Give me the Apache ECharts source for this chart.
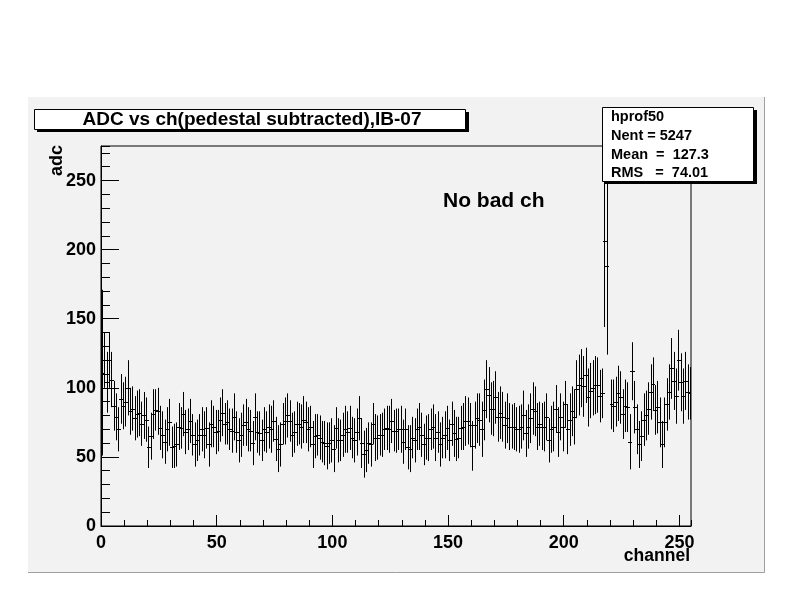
<!DOCTYPE html>
<html><head><meta charset="utf-8">
<script src="https://cdn.jsdelivr.net/npm/echarts@6/dist/echarts.min.js"></script>
<style>html,body{margin:0;padding:0;background:#fff}#c{width:792px;height:612px}</style>
</head><body><div id="c"></div>
<script>
// profile means per channel (ch 0..254); ch 219 empty
const means = [
 111,120,104,120,106,87,79,70,92,87,
 90,100,83,85,78,81,82,74,80,77,
 57,65,81,84,83,71,66,61,70,75,
 57,58,59,72,71,81,68,70,76,66,
 59,62,66,70,66,71,59,74,72,68,
 69,77,82,74,75,70,69,79,68,62,
 66,73,75,70,69,60,79,68,67,62,
 70,68,72,70,76,63,56,59,74,76,
 80,76,66,68,74,74,72,77,75,70,
 72,59,65,66,64,61,60,58,60,62,
 56,71,62,62,66,70,68,71,64,62,
 68,78,60,52,55,60,59,74,64,64,
 66,66,70,71,70,76,69,69,70,70,
 61,70,57,56,64,62,70,72,66,59,
 64,64,70,72,64,68,59,64,66,71,
 62,74,67,63,64,71,72,76,76,73,
 58,73,78,77,70,84,99,95,85,85,
 93,79,82,79,73,78,72,72,72,70,
 70,72,80,67,72,78,85,83,72,74,
 72,72,79,62,70,72,85,68,79,72,
 88,70,77,83,79,99,102,107,101,109,
 93,98,100,102,102,94,96,206,188,null,
 88,87,90,96,93,81,87,86,61,112,
 86,70,59,65,77,80,85,97,103,84,
 86,75,59,75,88,97,114,105,94,120,
 104,94,105,97,96
];
// error on the mean per channel
const errors = [
 60,20,22,20,20,18,17,16,18,17,
 18,20,17,16,16,17,17,16,17,16,
 15,17,18,15,17,16,17,16,16,17,
 15,16,16,17,15,16,16,15,16,15,
 16,15,15,16,17,15,16,17,15,16,
 15,16,17,15,16,15,16,17,15,16,
 16,15,17,16,15,16,17,15,16,15,
 16,15,16,17,15,16,17,16,15,17,
 16,15,16,15,16,15,16,17,15,16,
 15,17,16,15,16,15,16,17,15,16,
 17,15,16,15,16,17,15,16,15,16,
 17,16,18,17,16,15,16,15,17,16,
 15,16,15,16,17,16,15,16,15,17,
 16,15,16,17,15,16,15,17,16,15,
 16,17,15,16,17,15,16,15,17,16,
 15,16,17,16,15,16,17,18,17,16,
 18,17,18,19,20,22,21,20,19,20,
 19,18,19,18,17,18,17,16,17,16,
 17,16,18,17,16,18,19,18,17,16,
 17,18,17,16,17,18,17,18,17,18,
 17,18,19,18,20,21,22,21,22,20,
 21,20,20,21,20,19,18,62,64,null,
 18,19,18,20,19,18,19,18,20,21,
 19,18,17,18,19,18,19,20,19,18,
 19,18,17,18,19,20,22,21,20,22,
 21,20,21,20,19
];
const channels = means.map((_, i) => i);
const xRange = [0, 255];
const yRange = [0, 275];
const titleText = 'ADC vs ch(pedestal subtracted),IB-07';
const statsLines = ['hprof50', 'Nent = 5247', 'Mean  =  127.3', 'RMS   =  74.01'];
const noteText = 'No bad ch';
const xName = 'channel';
const yName = 'adc';

const FONT = '"Liberation Sans", Arial, Helvetica, sans-serif';
const data = [];
channels.forEach((c, i) => {
  if (means[i] != null) data.push([c + 0.5, means[i], errors[i]]);
});

const chart = echarts.init(document.getElementById('c'), null, {renderer: 'canvas'});
const G = {left: 101, top: 146, width: 590, height: 380};

function renderItem(params, api) {
  const x = api.value(0), m = api.value(1), e = api.value(2);
  const t = api.coord([x, m + e]);
  const b = api.coord([x, m - e]);
  const l = api.coord([x - 0.5, m]);
  const r = api.coord([x + 0.5, m]);
  const px = Math.round(t[0]) + 0.5;
  const py = Math.round(l[1]) + 0.5;
  return {
    type: 'group',
    children: [
      {type: 'line', shape: {x1: px, y1: t[1], x2: px, y2: b[1]}, style: {stroke: '#000', lineWidth: 1}},
      {type: 'line', shape: {x1: Math.floor(l[0]), y1: py, x2: Math.ceil(r[0]) + 1, y2: py}, style: {stroke: '#000', lineWidth: 1}}
    ]
  };
}

const labelStyle = {color: '#000', fontFamily: FONT, fontWeight: 'bold', fontSize: 18};

chart.setOption({
  animation: false,
  backgroundColor: '#ffffff',
  grid: [
    Object.assign({show: true, backgroundColor: '#f2f2f2', borderColor: '#000', borderWidth: 1}, G),
    Object.assign({show: false}, G)
  ],
  xAxis: [
    {type: 'value', gridIndex: 0, min: xRange[0], max: xRange[1], interval: 50, position: 'bottom',
     axisLine: {show: true, lineStyle: {color: '#000', width: 1}},
     axisTick: {show: true, inside: true, length: 11, lineStyle: {color: '#000', width: 1}},
     axisLabel: Object.assign({margin: 8, showMaxLabel: false, formatter: v => (v % 50 === 0 ? String(v) : '')}, labelStyle),
     splitLine: {show: false}},
    {type: 'value', gridIndex: 1, min: xRange[0], max: xRange[1], interval: 10, position: 'bottom',
     axisLine: {show: false},
     axisTick: {show: true, inside: true, length: 6, lineStyle: {color: '#000', width: 1}},
     axisLabel: {show: false}, splitLine: {show: false}}
  ],
  yAxis: [
    {type: 'value', gridIndex: 0, min: yRange[0], max: yRange[1], interval: 50, position: 'left',
     axisLine: {show: true, lineStyle: {color: '#000', width: 1}},
     axisTick: {show: true, inside: true, length: 18, lineStyle: {color: '#000', width: 1}},
     axisLabel: Object.assign({margin: 5, showMaxLabel: false, formatter: v => (v % 50 === 0 ? String(v) : '')}, labelStyle),
     splitLine: {show: false}},
    {type: 'value', gridIndex: 1, min: yRange[0], max: yRange[1], interval: 10, position: 'left',
     axisLine: {show: false},
     axisTick: {show: true, inside: true, length: 9, lineStyle: {color: '#000', width: 1}},
     axisLabel: {show: false}, splitLine: {show: false}}
  ],
  series: [{
    type: 'custom', xAxisIndex: 0, yAxisIndex: 0, data: data, renderItem: renderItem, clip: true, z: 5
  }],
  graphic: [
    // pad
    {type: 'rect', z: -10, shape: {x: 28, y: 97, width: 737, height: 476}, style: {fill: '#f2f2f2'}},
    {type: 'polyline', z: -9, shape: {points: [[28, 572.5], [764.5, 572.5], [764.5, 97]]}, style: {stroke: '#a0a0a0', lineWidth: 1, fill: null}},
    // title box
    {type: 'rect', z: 50, shape: {x: 37, y: 112, width: 432, height: 20}, style: {fill: '#000'}},
    {type: 'rect', z: 51, shape: {x: 34.5, y: 109.5, width: 431, height: 20}, style: {fill: '#fff', stroke: '#000', lineWidth: 1}},
    {type: 'text', z: 52, x: 252, y: 120, style: {text: titleText, fill: '#000', font: 'bold 19px ' + FONT, textAlign: 'center', textVerticalAlign: 'middle'}},
    // stats box
    {type: 'rect', z: 50, shape: {x: 605, y: 110, width: 152, height: 74}, style: {fill: '#000'}},
    {type: 'rect', z: 51, shape: {x: 602.5, y: 107.5, width: 151, height: 74}, style: {fill: '#fff', stroke: '#000', lineWidth: 1}},
    {type: 'text', z: 52, x: 611, y: 117, style: {text: statsLines[0], fill: '#000', font: 'bold 14.5px ' + FONT, textVerticalAlign: 'middle'}},
    {type: 'text', z: 52, x: 611, y: 136, style: {text: statsLines[1], fill: '#000', font: 'bold 14.5px ' + FONT, textVerticalAlign: 'middle'}},
    {type: 'text', z: 52, x: 611, y: 155, style: {text: statsLines[2], fill: '#000', font: 'bold 14.5px ' + FONT, textVerticalAlign: 'middle'}},
    {type: 'text', z: 52, x: 611, y: 173, style: {text: statsLines[3], fill: '#000', font: 'bold 14.5px ' + FONT, textVerticalAlign: 'middle'}},
    // annotation
    {type: 'text', z: 52, x: 443, y: 201, style: {text: noteText, fill: '#000', font: 'bold 21px ' + FONT, textVerticalAlign: 'middle'}},
    // axis titles
    {type: 'text', z: 52, x: 690, y: 556, style: {text: xName, fill: '#000', font: 'bold 17.5px ' + FONT, textAlign: 'right', textVerticalAlign: 'middle'}},
    {type: 'text', z: 52, x: 57, y: 145, rotation: Math.PI / 2, style: {text: yName, fill: '#000', font: 'bold 18px ' + FONT, textAlign: 'right', textVerticalAlign: 'middle'}}
  ]
});
</script></body></html>
